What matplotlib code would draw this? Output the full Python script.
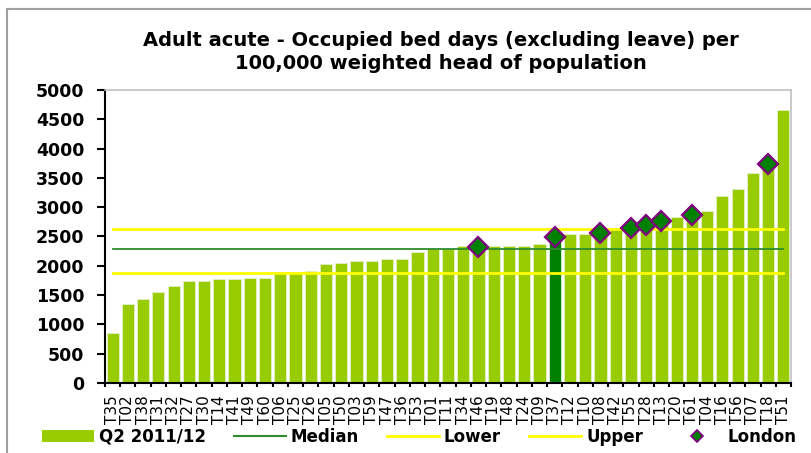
import numpy as np
import matplotlib
matplotlib.use("Agg")
import matplotlib.pyplot as plt
from matplotlib.lines import Line2D
from matplotlib.patches import Patch

# Trusts sorted by value
trusts = ["T35", "T02", "T38", "T31", "T32", "T27", "T30", "T14", "T41", "T49",
          "T60", "T06", "T25", "T26", "T05", "T50", "T03", "T59", "T47", "T36",
          "T53", "T01", "T11", "T34", "T46", "T19", "T48", "T24", "T09", "T37",
          "T12", "T10", "T08", "T42", "T55", "T28", "T13", "T20", "T61", "T04",
          "T16", "T56", "T07", "T18", "T51"]
values = [853, 1352, 1437, 1551, 1659, 1744, 1744, 1767, 1767, 1795,
          1795, 1893, 1893, 1910, 2034, 2051, 2085, 2085, 2108, 2108,
          2244, 2285, 2290, 2341, 2320, 2341, 2341, 2341, 2364, 2490,
          2551, 2551, 2568, 2648, 2648, 2694, 2773, 2841, 2864, 2943,
          3193, 3318, 3586, 3735, 4660]
london = ["T46", "T37", "T08", "T55", "T28", "T13", "T61", "T18"]
highlight = "T37"
median = 2290
lower = 1869
upper = 2626

title = "Adult acute - Occupied bed days (excluding leave) per\n100,000 weighted head of population"

plt.rcParams["font.family"] = ["DejaVu Sans"]

fig = plt.figure(figsize=(8.11, 4.53), dpi=100)
ax = fig.add_axes([105 / 811, 1 - 383 / 453, 686 / 811, 293 / 453])

x = np.arange(len(trusts))
colors = ["#008000" if t == highlight else "#99CC00" for t in trusts]
ax.bar(x, values, width=0.8, color=colors, edgecolor="#e4eec8", linewidth=0.6, zorder=2)

# reference lines from first to last bar centre
ax.plot([x[0], x[-1]], [median, median], color="#2e8b2e", lw=1.3, zorder=3)
ax.plot([x[0], x[-1]], [lower, lower], color="#ffff00", lw=2, zorder=3)
ax.plot([x[0], x[-1]], [upper, upper], color="#ffff00", lw=2, zorder=3)

# London markers
lx = [trusts.index(t) for t in london]
ly = [values[i] for i in lx]
ax.plot(lx, ly, linestyle="none", marker="D", markersize=10.5,
        markerfacecolor="#008000", markeredgecolor="#800080", markeredgewidth=1.6, zorder=4)

ax.set_xlim(-0.5, len(trusts) - 0.5)
ax.set_ylim(0, 5000)
ax.set_yticks(np.arange(0, 5001, 500))
ax.set_yticklabels([str(v) for v in range(0, 5001, 500)], fontweight="bold")
ax.tick_params(axis="y", length=6, width=1.5, pad=9, labelsize=12.5, direction="out")
ax.set_xticks(x)
ax.set_xticklabels(trusts, rotation=90, fontsize=11)
ax.tick_params(axis="x", which="major", length=0, pad=9)
ax.set_xticks(np.arange(-0.5, len(trusts), 1), minor=True)
ax.tick_params(axis="x", which="minor", length=3, width=1.5, direction="out")

ax.spines["left"].set_linewidth(1.5)
ax.spines["bottom"].set_linewidth(1.5)
ax.spines["top"].set_color("#c0c0c0")
ax.spines["right"].set_color("#c0c0c0")
ax.spines["top"].set_linewidth(1.2)
ax.spines["right"].set_linewidth(1.2)

fig.text(441 / 811, 1 - 31 / 453, title, ha="center", va="top", fontsize=14,
         fontweight="bold", linespacing=1.25)

# legend along the bottom
handles = [
    Patch(facecolor="#99CC00", edgecolor="none"),
    Line2D([], [], color="#2e8b2e", lw=1.5),
    Line2D([], [], color="#ffff00", lw=2),
    Line2D([], [], color="#ffff00", lw=2),
    Line2D([], [], linestyle="none", marker="D", markersize=6,
           markerfacecolor="#008000", markeredgecolor="#800080", markeredgewidth=1.2),
]
labels = ["Q2 2011/12", "Median", "Lower", "Upper", "London"]
fig.legend(handles, labels, loc="center left", bbox_to_anchor=(42 / 811, 1 - 437 / 453),
           ncol=5, frameon=False, prop={"size": 12, "weight": "bold"},
           handlelength=3.1, handletextpad=0.3, columnspacing=1.7,
           borderpad=0, borderaxespad=0)

# outer chart frame (top and left edges)
fig.add_artist(Line2D([7 / 811, 1.0], [1 - 9 / 453, 1 - 9 / 453], transform=fig.transFigure,
                      color="#a0a0a0", lw=1.5))
fig.add_artist(Line2D([7 / 811, 7 / 811], [0, 1 - 9 / 453], transform=fig.transFigure,
                      color="#a0a0a0", lw=1.5))

fig.savefig("out.png", dpi=100)
